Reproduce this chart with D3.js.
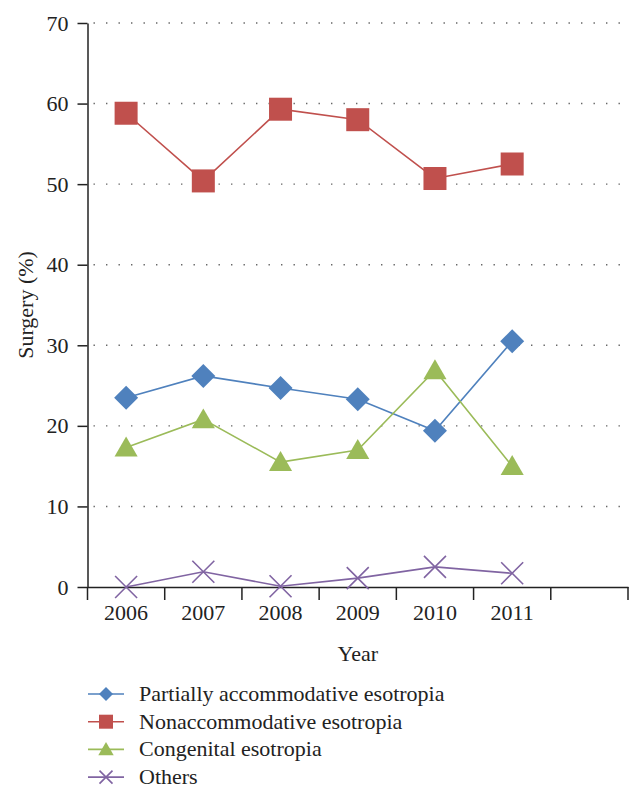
<!DOCTYPE html>
<html><head><meta charset="utf-8">
<script src="https://cdn.jsdelivr.net/npm/d3@7"></script>
<style>body{margin:0;background:#fff}</style>
</head><body><svg id="c" width="643" height="797"></svg>
<script>
const years = ["2006","2007","2008","2009","2010","2011",""];
const partially = [23.5, 26.2, 24.7, 23.3, 19.4, 30.5];
const nonaccom = [58.8, 50.4, 59.3, 58.0, 50.7, 52.5];
const congenital = [17.3, 20.8, 15.5, 17.0, 26.9, 15.0];
const others = [0.0, 1.9, 0.1, 1.1, 2.5, 1.7];
const yTicks = [0,10,20,30,40,50,60,70];
const seriesNames = ["Partially accommodative esotropia","Nonaccommodative esotropia","Congenital esotropia","Others"];
const seriesColors = ["#4F81BD","#C0504D","#9BBB59","#8064A2"];
const seriesShapes = ["diamond","square","triangle","cross"];
const seriesData = [partially, nonaccom, congenital, others];

const svg = d3.select("#c");
const font = "Liberation Serif, DejaVu Serif, serif";
const FS = 22;
const L = 87.5, R = 628, T = 23, B = 587;
const x = d3.scaleBand().domain(years.map((d,i)=>i)).range([L,R]);
const y = d3.scaleLinear().domain([0,70]).range([B,T]);

// gridlines
svg.append("g").selectAll("line").data(yTicks.filter(d=>d>0)).join("line")
  .attr("x1",L+6).attr("x2",R).attr("y1",d=>y(d)).attr("y2",d=>y(d))
  .attr("stroke","#666").attr("stroke-width",1.4).attr("stroke-dasharray","1.4,11.1");

// y axis
const ya = svg.append("g").attr("transform",`translate(${L},0)`)
  .call(d3.axisLeft(y).tickValues(yTicks).tickSize(10).tickPadding(9).tickSizeOuter(0));
ya.select(".domain").attr("stroke","#222").attr("stroke-width",1.5);
ya.selectAll(".tick line").attr("stroke","#222").attr("stroke-width",1.5);
ya.selectAll("text").attr("font-family",font).attr("font-size",FS).attr("fill","#222");

// x axis
const xa = svg.append("g").attr("transform",`translate(0,${B})`)
  .call(d3.axisBottom(x).tickValues([]).tickSizeOuter(0));
xa.select(".domain").attr("stroke","#222").attr("stroke-width",1.5);
const tickPos = d3.range(years.length+1).map(i=> i<years.length ? x(i) : x(years.length-1)+x.bandwidth());
xa.selectAll(".xt").data(tickPos).join("line").attr("class","xt")
  .attr("x1",d=>d).attr("x2",d=>d).attr("y1",0).attr("y2",13)
  .attr("stroke","#222").attr("stroke-width",1.5);
xa.selectAll(".xl").data(years).join("text").attr("class","xl")
  .attr("x",(d,i)=>x(i)+x.bandwidth()/2).attr("y",33)
  .attr("text-anchor","middle").attr("font-family",font).attr("font-size",FS).attr("fill","#222").text(d=>d);

// axis titles
svg.append("text").attr("x",(L+R)/2).attr("y",661).attr("text-anchor","middle")
  .attr("font-family",font).attr("font-size",FS).attr("fill","#222").text("Year");
svg.append("text").attr("transform",`translate(33,${(T+B)/2}) rotate(-90)`).attr("text-anchor","middle")
  .attr("font-family",font).attr("font-size",FS).attr("fill","#222").text("Surgery (%)");

function marker(g, shape, color, s){
  if(shape==="diamond"){
    g.append("path").attr("d",`M0,${-s}L${s},0L0,${s}L${-s},0Z`).attr("fill",color);
  } else if(shape==="square"){
    g.append("rect").attr("x",-s).attr("y",-s).attr("width",2*s).attr("height",2*s).attr("fill",color);
  } else if(shape==="triangle"){
    g.append("path").attr("d",`M0,${-s*1.05}L${s*1.1},${s*0.85}L${-s*1.1},${s*0.85}Z`).attr("fill",color);
  } else {
    g.append("path").attr("d",`M${-s},${-s}L${s},${s}M${-s},${s}L${s},${-s}`).attr("stroke",color).attr("stroke-width",1.6).attr("fill","none");
  }
}

const cx = i => x(i)+x.bandwidth()/2;
const line = d3.line().x((d,i)=>cx(i)).y(d=>y(d));
const sizes = {diamond:12, square:11.5, triangle:10.5, cross:11};
seriesData.forEach((data,k)=>{
  const g = svg.append("g");
  g.append("path").attr("d",line(data)).attr("fill","none").attr("stroke",seriesColors[k]).attr("stroke-width",1.6);
  data.forEach((v,i)=>{
    const m = g.append("g").attr("transform",`translate(${cx(i)},${y(v)})`);
    marker(m, seriesShapes[k], seriesColors[k], sizes[seriesShapes[k]]);
  });
});

// legend
const lg = svg.append("g");
seriesNames.forEach((n,k)=>{
  const yy = 694 + k*27.7;
  lg.append("line").attr("x1",88).attr("x2",124).attr("y1",yy).attr("y2",yy).attr("stroke",seriesColors[k]).attr("stroke-width",1.6);
  const m = lg.append("g").attr("transform",`translate(106,${yy})`);
  marker(m, seriesShapes[k], seriesColors[k], seriesShapes[k]==="cross"?6.5:7);
  lg.append("text").attr("x",139).attr("y",yy+7).attr("font-family",font).attr("font-size",FS).attr("fill","#222").text(n);
});
</script></body></html>
